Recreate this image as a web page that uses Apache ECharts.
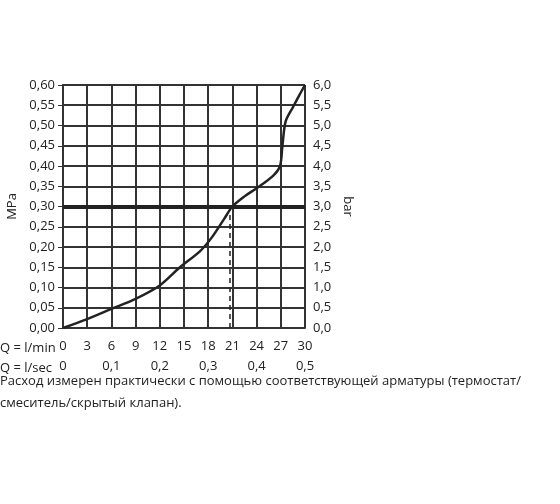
<!DOCTYPE html>
<html><head><meta charset="utf-8">
<script src="https://cdn.jsdelivr.net/npm/echarts@6/dist/echarts.min.js"></script>
<style>html,body{margin:0;background:#fff}#c{width:560px;height:504px}</style>
</head><body><div id="c"></div>
<script>
const flowLmin = [0, 3, 6, 9, 12, 14.5, 17, 18.5, 20, 21, 22.5, 24, 26, 26.9, 27.2, 27.6, 28.5, 29.3, 30];
const pressMPa = [0, 0.022, 0.047, 0.072, 0.105, 0.15, 0.19, 0.225, 0.27, 0.30, 0.325, 0.345, 0.375, 0.40, 0.45, 0.51, 0.545, 0.575, 0.60];
const refFlow = 20.7;
const refPress = 0.30;
const note = ['Расход измерен практически с помощью соответствующей арматуры (термостат/', 'смеситель/скрытый клапан).'];

const chart = echarts.init(document.getElementById('c'));
const comma = (d) => (v) => v.toFixed(d).replace('.', ',');
const txt = '#222';
const fs = 13;
const gridLine = { show: true, lineStyle: { color: '#333', width: 2 } };
chart.setOption({
  animation: false,
  textStyle: { fontFamily: 'Open Sans', color: txt },
  grid: { left: 63, right: 255, top: 85, bottom: 176 },
  xAxis: [
    { type: 'value', min: 0, max: 30, interval: 3, position: 'bottom',
      axisLine: { lineStyle: { color: '#333', width: 2 } }, axisTick: { show: false },
      axisLabel: { color: txt, fontSize: fs, margin: 12 }, splitLine: gridLine },
    { type: 'value', min: 0, max: 0.5, interval: 0.1, position: 'bottom', offset: 20,
      axisLine: { show: false }, axisTick: { show: false },
      axisLabel: { color: txt, fontSize: fs, margin: 12, formatter: (v) => v === 0 ? '0' : comma(1)(v) }, splitLine: { show: false } }
  ],
  yAxis: [
    { type: 'value', min: 0, max: 0.6, interval: 0.05, name: 'MPa', nameLocation: 'middle', nameGap: 44,
      nameTextStyle: { color: txt, fontSize: fs },
      axisLine: { show: true, lineStyle: { color: '#333', width: 2 } },
      axisTick: { show: true, length: 5, lineStyle: { color: '#333' } },
      axisLabel: { color: txt, fontSize: fs, formatter: comma(2) }, splitLine: gridLine },
    { type: 'value', min: 0, max: 6, interval: 0.5, position: 'right', name: 'bar', nameLocation: 'middle', nameGap: 36,
      nameRotate: -90, nameTextStyle: { color: txt, fontSize: fs },
      axisLine: { show: true, lineStyle: { color: '#333', width: 2 } },
      axisTick: { show: true, length: 5, lineStyle: { color: '#333' } },
      axisLabel: { color: txt, fontSize: fs, formatter: comma(1) }, splitLine: { show: false } }
  ],
  series: [
    { type: 'line', xAxisIndex: 0, yAxisIndex: 0, smooth: 0.3, symbol: 'none',
      data: flowLmin.map((x, i) => [x, pressMPa[i]]),
      lineStyle: { color: '#222', width: 2.5 } },
    { type: 'line', xAxisIndex: 0, yAxisIndex: 0, symbol: 'none',
      data: [[refFlow, 0], [refFlow, refPress]],
      lineStyle: { color: '#222', width: 1.5, type: [5, 4] },
      markLine: { silent: true, symbol: 'none', label: { show: false },
        lineStyle: { color: '#222', width: 4, type: 'solid' }, data: [{ yAxis: refPress }] } }
  ],
  graphic: [
    { type: 'text', left: 0, top: 342, style: { text: 'Q = l/min', fontSize: fs, fill: txt, fontFamily: 'Open Sans' } },
    { type: 'text', left: 0, top: 362, style: { text: 'Q = l/sec', fontSize: fs, fill: txt, fontFamily: 'Open Sans' } },
    { type: 'text', left: 0, top: 375, style: { text: note[0], fontSize: 13, fill: txt, fontFamily: 'Open Sans' } },
    { type: 'text', left: 0, top: 397, style: { text: note[1], fontSize: 13, fill: txt, fontFamily: 'Open Sans' } }
  ]
});
</script></body></html>
